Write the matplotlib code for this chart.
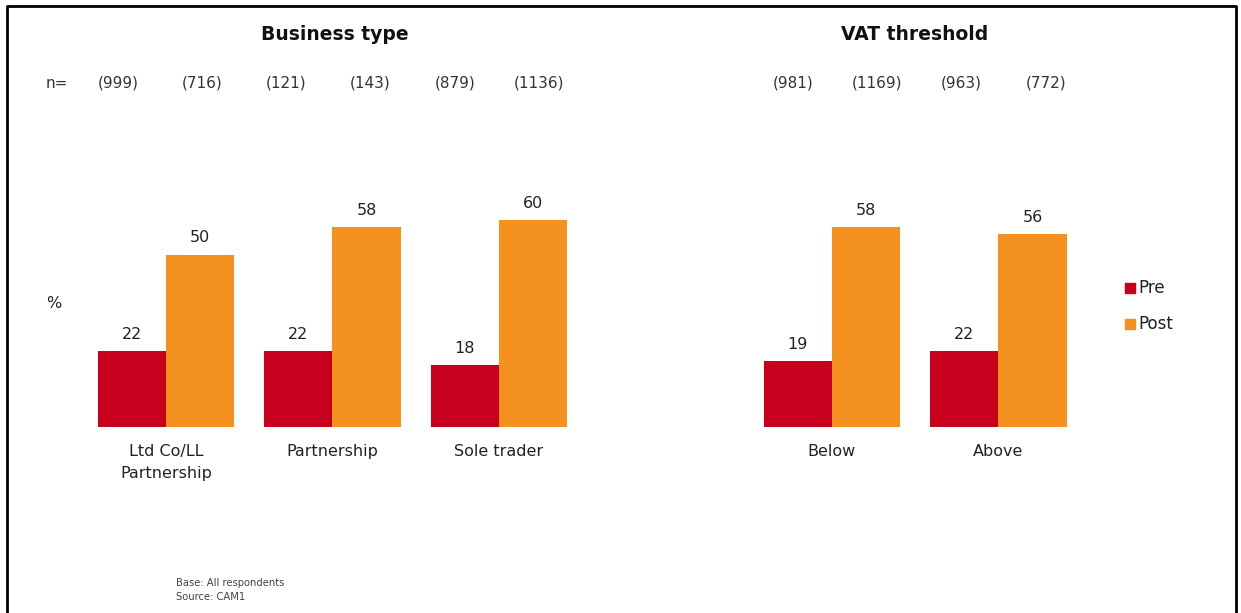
import matplotlib.pyplot as plt
from matplotlib.lines import Line2D
from matplotlib.patches import Rectangle

# Pre/Post percentages by business type and VAT threshold
business_types = ["Ltd Co/LL\nPartnership", "Partnership", "Sole trader"]
business_pre = [22, 22, 18]
business_post = [50, 58, 60]
business_n = ["(999)", "(716)", "(121)", "(143)", "(879)", "(1136)"]

vat_groups = ["Below", "Above"]
vat_pre = [19, 22]
vat_post = [58, 56]
vat_n = ["(981)", "(1169)", "(963)", "(772)"]

series_names = ["Pre", "Post"]
colors = ["#C8001E", "#F5921F"]

W, H = 1241, 613
fig = plt.figure(figsize=(W / 100, H / 100), dpi=100)
plt.rcParams['font.family'] = ['DejaVu Sans']


def fx(px):
    return px / W


def fy(py):
    return 1 - py / H


# single axes over the whole figure, groups laid out on one x scale
ax = fig.add_axes([0, 0, 1, 1])
step = 166.5
x0 = 166.0
ax.set_xlim(-x0 / step, (W - x0) / step)
ppu = 3.45
base = 427
ax.set_ylim(-(H - base) / ppu, base / ppu)
ax.axis('off')

positions = list(range(len(business_types))) + [4 + i for i in range(len(vat_groups))]
labels = business_types + vat_groups
pre = business_pre + vat_pre
post = business_post + vat_post

bw = 0.41
for name, vals, off, c in [(series_names[0], pre, -bw / 2, colors[0]),
                           (series_names[1], post, bw / 2, colors[1])]:
    bars = ax.bar([p + off for p in positions], vals, width=bw, color=c, label=name)
    for b, v in zip(bars, vals):
        ax.annotate(str(v), (b.get_x() + b.get_width() / 2, v),
                    xytext=(0, 6.5), textcoords='offset points',
                    ha='center', va='bottom', fontsize=11.5, color='#222222')

for p, lab in zip(positions, labels):
    ax.annotate(lab, (p, 0), xytext=(0, -12), textcoords='offset points',
                ha='center', va='top', fontsize=11.5, color='#222222',
                linespacing=1.6)

# panel titles
fig.text(fx(335), fy(35), "Business type", ha='center', va='center',
         fontsize=13.5, fontweight='bold', color='#111111')
fig.text(fx(915), fy(35), "VAT threshold", ha='center', va='center',
         fontsize=13.5, fontweight='bold', color='#111111')

# base sizes
fig.text(fx(57), fy(83), "n=", ha='center', va='center', fontsize=11, color='#333333')
for i, t in enumerate(business_n):
    fig.text(fx(118 + 84.2 * i), fy(83), t, ha='center', va='center',
             fontsize=11, color='#333333')
for i, t in enumerate(vat_n):
    fig.text(fx(793 + 84.3 * i), fy(83), t, ha='center', va='center',
             fontsize=11, color='#333333')

fig.text(fx(54), fy(303), "%", ha='center', va='center', fontsize=11.5, color='#222222')

# legend
for i, (name, c) in enumerate(zip(series_names, colors)):
    yc = 288 + 36 * i
    fig.patches.append(Rectangle((fx(1125), fy(yc + 5)), fx(10), 10 / H,
                                 transform=fig.transFigure, color=c))
    fig.text(fx(1138), fy(yc), name, ha='left', va='center', fontsize=12, color='#222222')

fig.text(fx(176), fy(583), "Base: All respondents", ha='left', va='center',
         fontsize=7.2, color='#444444')
fig.text(fx(176), fy(597), "Source: CAM1", ha='left', va='center',
         fontsize=7.2, color='#444444')

# frame
fig.lines.append(Line2D([fx(7), fx(7), fx(1236), fx(1236)],
                        [fy(H + 5), fy(6), fy(6), fy(H + 5)],
                        transform=fig.transFigure, color='black', lw=2))

fig.savefig("out.png", dpi=100, facecolor='white')
